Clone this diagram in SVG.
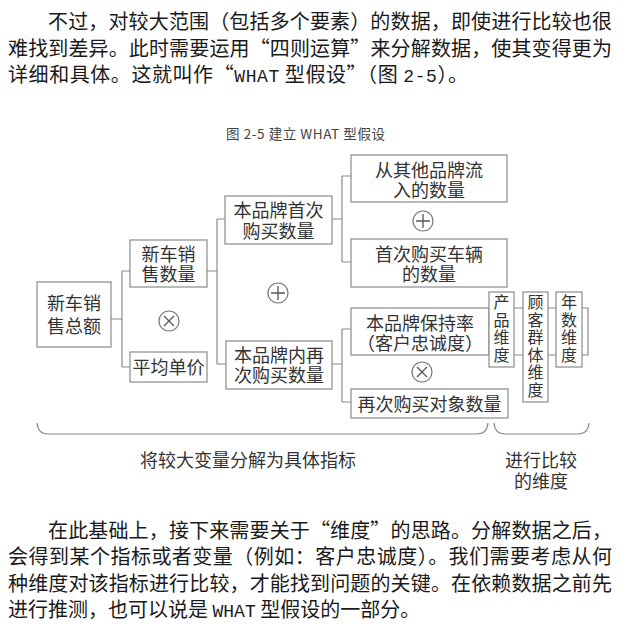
<svg xmlns="http://www.w3.org/2000/svg" width="627" height="627" viewBox="0 0 627 627">
<style>
.p{font-family:"Noto Sans CJK SC",sans-serif;font-size:20px;fill:#1a1a1a}
.m{font-family:"Liberation Mono",monospace;font-size:18px}
.cap{font-family:"Noto Sans CJK SC",sans-serif;font-size:13.5px;fill:#444}
.t{font-family:"Noto Sans CJK SC",sans-serif;font-size:18px;fill:#333;text-anchor:middle}
.v{font-family:"Noto Sans CJK SC",sans-serif;font-size:16px;fill:#333;writing-mode:vertical-rl;letter-spacing:1.5px}
.b{fill:#fff;stroke:#8a8a8a;stroke-width:1.2}
.c{fill:none;stroke:#8a8a8a;stroke-width:1.2}
.op{fill:#fff;stroke:#777;stroke-width:1.2}
.os{fill:none;stroke:#555;stroke-width:1.3}
.lbl{font-family:"Noto Sans CJK SC",sans-serif;font-size:18px;fill:#333;text-anchor:middle}
</style>
<rect width="627" height="627" fill="#fff"/>
<g id="para1">
<text class="p" x="48" y="29" textLength="564" lengthAdjust="spacing">不过，对较大范围（包括多个要素）的数据，即使进行比较也很</text>
<text class="p" x="8" y="56" textLength="604" lengthAdjust="spacing">难找到差异。此时需要运用“四则运算”来分解数据，使其变得更为</text>
<text class="p" x="8" y="82" textLength="460" lengthAdjust="spacing">详细和具体。这就叫作“<tspan class="m">WHAT</tspan> 型假设”（图 <tspan class="m">2-5</tspan>）。</text>
</g>
<text class="cap" x="226" y="139" textLength="159" lengthAdjust="spacing">图 2-5 建立 WHAT 型假设</text>
<g id="connectors">
<path class="c" d="M111,319H122M122,271V367M122,271H130M122,367H130"/>
<path class="c" d="M207,271H217M217,219V364M217,219H225M217,364H226"/>
<path class="c" d="M332,219H342M342,176V262M342,176H351M342,262H351"/>
<path class="c" d="M332,364H342M342,329V402M342,329H351M342,402H351"/>
<path class="c" d="M514,308H523M514,355H523M548,308H556M548,355H556M582,308H588V355H582"/>
</g>
<g id="n-total"><rect class="b" x="37" y="282" width="74" height="65"/><text class="t"><tspan x="74" y="310">新车销</tspan><tspan x="74" y="333">售总额</tspan></text></g>
<g id="n-qty"><rect class="b" x="130" y="240" width="77" height="47"/><text class="t"><tspan x="168.5" y="261">新车销</tspan><tspan x="168.5" y="281">售数量</tspan></text></g>
<g id="n-price"><rect class="b" x="130" y="352" width="77" height="30"/><text class="t" x="168.5" y="374">平均单价</text></g>
<g id="n-first"><rect class="b" x="225" y="196" width="107" height="48"/><text class="t"><tspan x="278.5" y="217">本品牌首次</tspan><tspan x="278.5" y="238">购买数量</tspan></text></g>
<g id="n-repeat"><rect class="b" x="226" y="341" width="106" height="48"/><text class="t"><tspan x="279" y="362">本品牌内再</tspan><tspan x="279" y="382">次购买数量</tspan></text></g>
<g id="n-inflow"><rect class="b" x="351" y="155" width="156" height="47"/><text class="t"><tspan x="429" y="177">从其他品牌流</tspan><tspan x="429" y="197">入的数量</tspan></text></g>
<g id="n-firstcar"><rect class="b" x="351" y="239" width="156" height="48"/><text class="t"><tspan x="429" y="261">首次购买车辆</tspan><tspan x="429" y="281">的数量</tspan></text></g>
<g id="n-retention"><rect class="b" x="351" y="308" width="138" height="47"/><text class="t"><tspan x="420" y="330">本品牌保持率</tspan><tspan x="420" y="350">（客户忠诚度）</tspan></text></g>
<g id="n-target"><rect class="b" x="351" y="389" width="157" height="29"/><text class="t" x="429.5" y="411">再次购买对象数量</text></g>
<g id="d-product"><rect class="b" x="489" y="292" width="25" height="75"/><text class="v" x="501.5" y="294">产品维度</text></g>
<g id="d-customer"><rect class="b" x="523" y="292" width="25" height="110"/><text class="v" x="535.5" y="294">顾客群体维度</text></g>
<g id="d-year"><rect class="b" x="556" y="292" width="26" height="75"/><text class="v" x="569" y="294">年数维度</text></g>
<g id="ops">
<circle class="op" cx="169" cy="321" r="10"/><path class="os" d="M164,316L174,326M174,316L164,326"/>
<circle class="op" cx="278" cy="293" r="10"/><path class="os" d="M271,293H285M278,286V300"/>
<circle class="op" cx="423" cy="221" r="10"/><path class="os" d="M416,221H430M423,214V228"/>
<circle class="op" cx="422" cy="372" r="10"/><path class="os" d="M417,367L427,377M427,367L417,377"/>
</g>
<g id="braces">
<path class="c" d="M37,423Q38,434 48,434H477Q487,434 488,423"/>
<path class="c" d="M494,423Q495,434 505,434H578Q588,434 589,423"/>
</g>
<text class="lbl" x="248" y="467">将较大变量分解为具体指标</text>
<text class="lbl"><tspan x="541" y="467">进行比较</tspan><tspan x="541" y="488">的维度</tspan></text>
<g id="para2">
<text class="p" x="48" y="538" textLength="564" lengthAdjust="spacing">在此基础上，接下来需要关于“维度”的思路。分解数据之后，</text>
<text class="p" x="8" y="564" textLength="604" lengthAdjust="spacing">会得到某个指标或者变量（例如：客户忠诚度）。我们需要考虑从何</text>
<text class="p" x="8" y="591" textLength="604" lengthAdjust="spacing">种维度对该指标进行比较，才能找到问题的关键。在依赖数据之前先</text>
<text class="p" x="8" y="617">进行推测，也可以说是 <tspan class="m">WHAT</tspan> 型假设的一部分。</text>
</g>
</svg>
